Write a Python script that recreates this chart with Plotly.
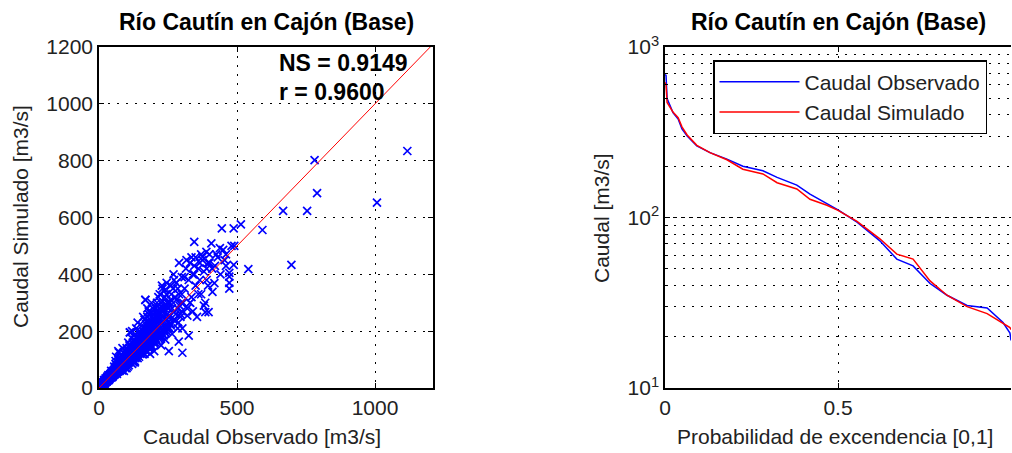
import plotly.graph_objects as go

# ---------------- data ----------------
title_text = "Río Cautín en Cajón (Base)"

pairs_0_50 = [(5,6),(8,7),(10,12),(12,10),(14,17),(15,13),(17,20),(18,16),(20,24),(22,19),(23,28),(25,22),(26,31),(28,25),(30,36),(31,27),(33,30),(35,42),(36,33),(38,44),(40,36),(41,48),(43,39),(45,52),(46,41),(48,58),(50,45),(12,20),(18,28),(24,34),(30,40),(36,30),(42,50),(48,38),(20,14),(27,22),(34,45),(44,60),(15,18),(25,30),(35,28),(45,40),(8,12),(6,4)]
pairs_50_100 = [(52,60),(55,48),(58,70),(60,55),(62,80),(65,62),(68,90),(70,58),(72,85),(75,70),(78,100),(80,66),(82,95),(85,78),(88,110),(90,75),(92,120),(95,85),(98,130),(100,90),(55,75),(60,85),(65,50),(70,100),(75,60),(80,115),(85,70),(90,125),(95,80),(100,140),(58,68),(66,58),(74,92),(82,72),(90,105),(98,88),(62,110),(72,125),(84,62),(96,70),(70,130),(85,140),(60,95),(78,65),(92,98)]
pairs_100_150 = [(102,95),(105,130),(108,80),(110,150),(112,110),(115,120),(118,140),(120,100),(122,160),(125,115),(128,170),(130,125),(132,105),(135,145),(138,180),(140,135),(142,120),(145,160),(148,190),(150,140),(104,75),(110,90),(116,100),(122,135),(128,150),(134,110),(140,175),(146,200),(106,160),(118,175),(130,95),(142,150),(112,196),(126,185),(138,115),(150,120),(120,200),(135,210),(145,110),(108,120),(125,90),(140,230)]
pairs_150_200 = [(152,150),(155,170),(158,135),(160,200),(162,160),(165,180),(168,145),(170,210),(172,175),(175,190),(178,155),(180,230),(182,165),(185,200),(188,170),(190,250),(192,185),(195,215),(198,160),(200,240),(155,220),(165,120),(175,250),(185,140),(195,175),(160,190),(170,205),(180,260),(190,150),(200,200),(158,118),(172,130),(186,230),(165,240),(180,270),(195,280),(168,310),(175,280),(190,300),(200,130),(185,120),(160,250)]
pairs_200_250 = [(202,190),(205,220),(208,170),(210,260),(212,200),(215,240),(218,180),(220,280),(222,210),(225,300),(228,190),(230,230),(232,250),(235,205),(238,320),(240,240),(242,215),(245,290),(248,260),(250,230),(205,160),(215,175),(225,150),(235,185),(245,200),(210,300),(220,330),(230,270),(240,345),(250,280),(212,250),(228,360),(244,330),(215,320),(230,350),(245,370),(250,300),(225,180),(240,170),(205,280)]
pairs_250_300 = [(255,250),(258,300),(260,220),(265,280),(268,350),(270,240),(275,320),(278,260),(280,370),(285,280),(288,230),(290,330),(295,260),(298,300),(300,390),(255,210),(265,190),(275,240),(285,210),(295,250),(260,360),(270,400),(280,310),(290,440),(300,270),(262,330),(285,350),(272,380),(292,290),(300,330)]
pairs_300_400 = [(305,300),(310,350),(315,420),(320,280),(325,380),(330,440),(335,320),(340,400),(345,430),(350,360),(355,250),(360,420),(365,380),(370,330),(375,450),(380,410),(385,300),(390,420),(395,360),(400,470),(310,390),(330,300),(350,460),(370,470),(390,380),(320,255),(340,270),(360,330),(380,290),(400,440),(345,400),(365,440),(335,460)]
pairs_core = [(30,32),(32,35),(34,31),(37,38),(39,42),(42,40),(44,46),(47,44),(49,52),(51,50),(53,56),(56,54),(57,62),(59,58),(61,66),(63,60),(64,70),(67,64),(69,74),(71,68),(73,78),(76,74),(77,82),(79,76),(81,86),(83,80),(86,92),(87,84),(89,96),(91,88),(93,100),(94,92),(97,104),(99,96),(101,110),(103,102),(106,115),(107,100),(109,120),(111,106),(113,125),(116,112),(117,130),(119,115),(121,135),(124,120),(126,140),(127,125),(129,145),(131,128),(133,150),(136,132),(137,155),(139,138),(141,160),(143,140),(146,165),(147,145),(149,170),(151,150),(153,178),(156,155),(157,185),(159,160),(161,190),(163,162),(166,195),(167,168),(169,200),(171,172),(173,205),(176,178),(177,212),(179,182),(181,218),(183,185),(186,222),(187,190),(189,228),(191,195),(193,232),(196,198),(197,238),(199,200),(201,245),(204,205),(206,250),(209,210),(211,255),(214,215),(216,262),(219,220),(221,268),(224,225),(226,275),(229,230),(231,280),(234,235),(236,288),(239,240),(241,295),(244,245),(246,300),(249,250),(120,85),(140,105),(160,125),(180,140),(200,160),(220,180),(240,195),(100,70),(90,60),(130,90),(170,130),(190,145),(210,165),(230,190),(250,210),(80,105),(110,140),(150,185),(170,225),(190,265),(210,290)]
pairs_core2 = [(10,11),(10,9),(14,16),(14,12),(18,21),(18,15),(22,25),(22,18),(26,30),(26,22),(30,35),(30,25),(34,39),(34,29),(38,44),(38,32),(42,48),(42,36),(46,53),(46,39),(50,58),(50,42),(54,62),(54,46),(58,67),(58,49),(62,71),(62,53),(66,76),(66,56),(70,80),(70,60),(74,85),(74,63),(78,90),(78,66),(82,94),(82,70),(86,99),(86,73),(90,104),(90,76),(94,108),(94,80),(98,113),(98,83),(102,117),(102,87),(106,122),(106,90),(110,127),(110,93),(114,131),(114,97),(118,136),(118,100),(122,140),(122,104),(126,145),(126,107),(130,150),(130,110),(134,154),(134,114),(138,159),(138,117),(142,163),(142,121),(146,168),(146,124),(150,173),(150,127),(154,177),(154,131),(158,182),(158,134),(162,186),(162,138),(166,191),(166,141),(170,196),(170,145),(174,200),(174,148),(178,205),(178,151),(182,209),(182,155),(186,214),(186,158),(190,219),(190,162),(194,223),(194,165),(198,228),(198,168),(205,240),(205,175),(212,250),(212,180),(220,260),(220,190),(228,270),(228,195),(236,280),(236,200),(244,290),(244,210),(252,300),(252,215),(260,310),(260,225)]
pairs_outliers = [(1117,834),(781,802),(790,686),(667,623),(754,623),(1007,652),(697,433),(592,556),(514,576),(488,562),(445,562),(541,418),(488,433),(472,405),(472,392),(472,370),(472,350),(345,514),(407,509),(389,479),(450,486),(375,461),(317,450),(418,369),(411,338),(397,267),(385,267),(302,210),(325,184),(289,163),(302,124),(253,130),(168,310),(112,196),(438,492),(460,470),(480,500),(455,450),(420,430),(430,460),(395,440),(410,420),(440,400),(460,430),(330,300),(425,470),(490,500)]

one_to_one = [0, 1200]

ns_text = "NS = 0.9149"
r_text = "r = 0.9600"

prob_exc = [0, 0.003, 0.006, 0.023, 0.038, 0.049, 0.064, 0.092, 0.13, 0.179, 0.225, 0.283, 0.324, 0.381, 0.419, 0.468, 0.5, 0.555, 0.621, 0.67, 0.717, 0.766, 0.815, 0.873, 0.931, 0.977, 0.997, 1.0]
q_obs = [690, 682, 499, 412, 378, 331, 301, 263, 240, 220, 200, 188, 172, 155, 137, 120, 111, 94, 73, 57, 52, 41, 35, 30.5, 29.5, 24.2, 21, 19]
q_sim = [620, 600, 473, 415, 385, 340, 305, 265, 240, 218, 192, 180, 160, 147, 128, 118, 110, 95, 75, 61, 57, 42.5, 35, 30, 27.3, 23.9, 22.6, 22]

left_yticks = [0, 200, 400, 600, 800, 1000, 1200]
left_xticks = [0, 500, 1000]
right_xticks = [0, 0.5, 1]
right_yticks = [10, 100, 1000]
right_yticktext = ["10<sup>1</sup>", "10<sup>2</sup>", "10<sup>3</sup>"]
right_minor = [20, 30, 40, 50, 60, 70, 80, 90, 200, 300, 400, 500, 600, 700, 800, 900]

# ---------------- figure ----------------
all_pairs = (pairs_0_50 + pairs_50_100 + pairs_100_150 + pairs_150_200 +
             pairs_200_250 + pairs_250_300 + pairs_300_400 + pairs_core +
             pairs_core2 + pairs_outliers)
obs_pts = [p[0] for p in all_pairs]
sim_pts = [p[1] for p in all_pairs]

W, H = 1012, 453
FONT = "Liberation Sans, Arial, sans-serif"
FS = 21
fig = go.Figure()

fig.add_trace(go.Scatter(x=obs_pts, y=sim_pts, mode="markers", showlegend=False,
                         marker=dict(symbol="x-thin", size=8, color="#0000FF",
                                     line=dict(width=1.7, color="#0000FF")),
                         xaxis="x", yaxis="y"))
fig.add_trace(go.Scatter(x=one_to_one, y=one_to_one, mode="lines", showlegend=False,
                         line=dict(color="#FF0000", width=1), xaxis="x", yaxis="y"))

fig.add_trace(go.Scatter(x=prob_exc, y=q_obs, mode="lines", name="Caudal Observado",
                         line=dict(color="#0000FF", width=1.5), xaxis="x2", yaxis="y2"))
fig.add_trace(go.Scatter(x=prob_exc, y=q_sim, mode="lines", name="Caudal Simulado",
                         line=dict(color="#FF0000", width=1.5), xaxis="x2", yaxis="y2"))

def px_x(p):
    return p / W
def px_y(p):
    return 1 - p / H

L_DOM = [px_x(99), px_x(433)]
R_DOM = [px_x(665), px_x(1011)]
Y_DOM = [px_y(388), px_y(47)]

DOT = "2px,7px"
common = dict(showline=True, linecolor="black", linewidth=1.5, mirror="ticks",
              ticks="inside", ticklen=5, tickcolor="black", zeroline=False,
              gridcolor="black", griddash=DOT, gridwidth=1, automargin=False,
              tickfont=dict(family=FONT, size=FS, color="#222"))
common_r = dict(common)
common_r["mirror"] = False

fig.update_layout(
    width=W, height=H, margin=dict(l=0, r=0, t=0, b=0, autoexpand=False),
    paper_bgcolor="white", plot_bgcolor="white",
    font=dict(family=FONT, size=FS, color="#222"),
    xaxis=dict(domain=L_DOM, range=[0, 1210], tickvals=left_xticks, anchor="y", **common),
    yaxis=dict(domain=Y_DOM, range=[0, 1200], tickvals=left_yticks, anchor="x", **common),
    xaxis2=dict(domain=R_DOM, range=[0, 1], tickvals=right_xticks, anchor="y2", **common),
    yaxis2=dict(domain=Y_DOM, type="log", range=[1, 3], tickvals=right_yticks,
                ticktext=right_yticktext, anchor="x2",
                minor=dict(tickvals=right_minor, showgrid=True, gridcolor="black",
                           griddash=DOT, ticks="inside", ticklen=3, tickcolor="black"),
                **common_r),
    legend=dict(x=px_x(713), y=px_y(60), xanchor="left", yanchor="top",
                bgcolor="white", bordercolor="black", borderwidth=1.5,
                font=dict(family=FONT, size=FS, color="#222"), itemwidth=80),
    showlegend=True,
)
fig.layout.yaxis2.griddash = "4px,4px"

def note(text, x, y, size=FS, color="#222", xanchor="center", angle=0):
    return dict(text=text, x=px_x(x), y=px_y(y), xref="paper", yref="paper",
                xanchor=xanchor, yanchor="middle", showarrow=False, textangle=angle,
                font=dict(family=FONT, size=size, color=color))

ann = [
    note("<b>%s</b>" % title_text, 266, 22, size=23, color="black"),
    note("<b>%s</b>" % title_text, 838, 22, size=23, color="black"),
    note("Caudal Observado [m3/s]", 262, 436),
    note("Probabilidad de excendencia [0,1]", 835, 436),
    note("Caudal Simulado [m3/s]", 20, 217, angle=-90),
    note("Caudal [m3/s]", 601, 218, angle=-90),
    note("<b>%s</b>" % ns_text, 277, 63, size=23, color="black", xanchor="left"),
    note("<b>%s</b>" % r_text, 277, 92, size=23, color="black", xanchor="left"),
]
fig.update_layout(annotations=ann)

fig.write_html("out.html", config={"displayModeBar": False},
               post_script="document.body.style.margin='0';document.body.style.overflow='hidden';")
